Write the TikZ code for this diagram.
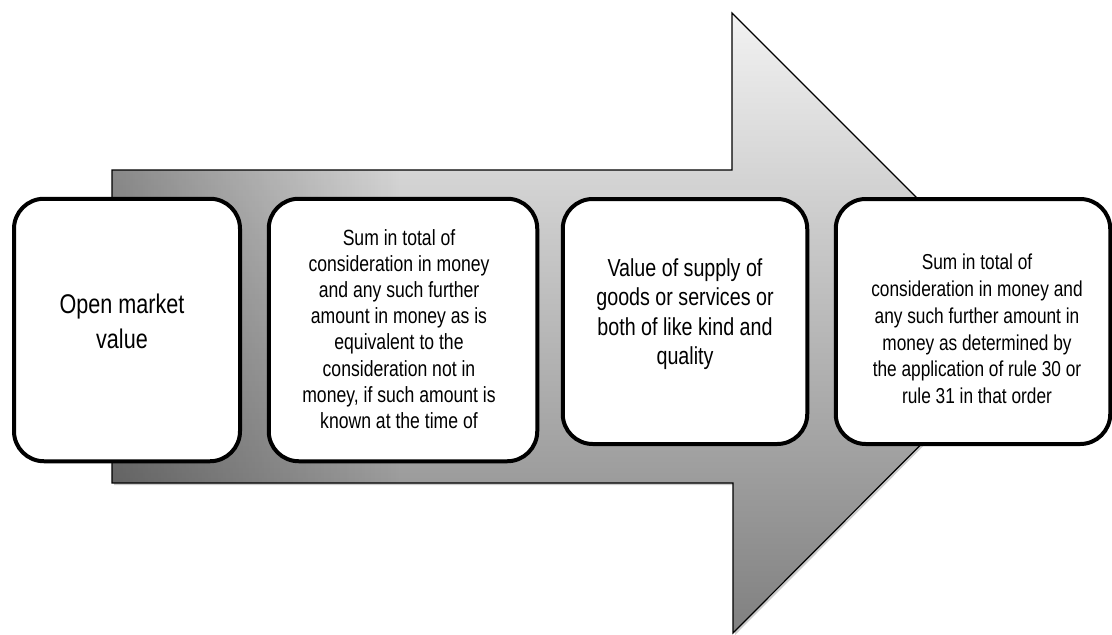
\documentclass[tikz,border=0pt]{standalone}
\usepackage{fontspec}
\setmainfont{Liberation Sans}
\newfontfamily\boxfont[FakeStretch=0.8]{Liberation Sans}
\usetikzlibrary{fadings}
\definecolor{arrowtop}{HTML}{F2F2F2}
\definecolor{arrowbot}{HTML}{808080}
\tikzset{
  card/.style={draw=black, line width=4pt, fill=white, rounded corners=30pt, rectangle, inner sep=0pt},
  cardtext/.style={align=center, text=black, inner sep=0pt},
  arrowline/.style={draw=black, line width=1.2pt, line join=miter},
}
\begin{document}
\begin{tikzpicture}[x=1pt,y=-1pt]
\useasboundingbox (0,0) rectangle (1112,635);
% shadow
\fill[gray!40, shift={(2,2)}] (112,170) -- (732,170) -- (732,13) -- (1042,323) -- (733,633) -- (733,483) -- (112,483) -- cycle;
% arrow body
\shade[top color=arrowtop, bottom color=arrowbot] (112,170) -- (732,170) -- (732,13) -- (1042,323) -- (733,633) -- (733,483) -- (112,483) -- cycle;
\begin{scope}
  \clip (112,170) -- (732,170) -- (732,13) -- (1042,323) -- (733,633) -- (733,483) -- (112,483) -- cycle;
  \fill[black, opacity=0.45, path fading=east] (40,170) rectangle (400,483);
\end{scope}
\path[arrowline] (112,170) -- (732,170) -- (732,13) -- (1042,323) -- (733,633) -- (733,483) -- (112,483) -- cycle;
% cards
\node[card, minimum width=226pt, minimum height=262.5pt] (b1) at (127,330) {};
\node[card, minimum width=268.5pt, minimum height=262.5pt] (b2) at (403,330) {};
\node[card, minimum width=244.5pt, minimum height=245pt] (b3) at (685,321.5) {};
\node[card, minimum width=274.5pt, minimum height=245pt] (b4) at (973,321.5) {};
% texts
\node[cardtext, font=\boxfont\fontsize{27}{35}\selectfont] (t1) at (122,321) {Open market\\value};
\node[cardtext, font=\boxfont\fontsize{22}{26.2}\selectfont] (t2) at (399,329) {Sum in total of\\consideration in money\\and any such further\\amount in money as is\\equivalent to the\\consideration not in\\money, if such amount is\\known at the time of};
\node[cardtext, font=\boxfont\fontsize{24.6}{29.5}\selectfont] (t3) at (685,314) {Value of supply of\\goods or services or\\both of like kind and\\quality};
\node[cardtext, font=\boxfont\fontsize{21.6}{26.7}\selectfont] (t4) at (977,329) {Sum in total of\\consideration in money and\\any such further amount in\\money as determined by\\the application of rule 30 or\\rule 31 in that order};
\end{tikzpicture}
\end{document}
